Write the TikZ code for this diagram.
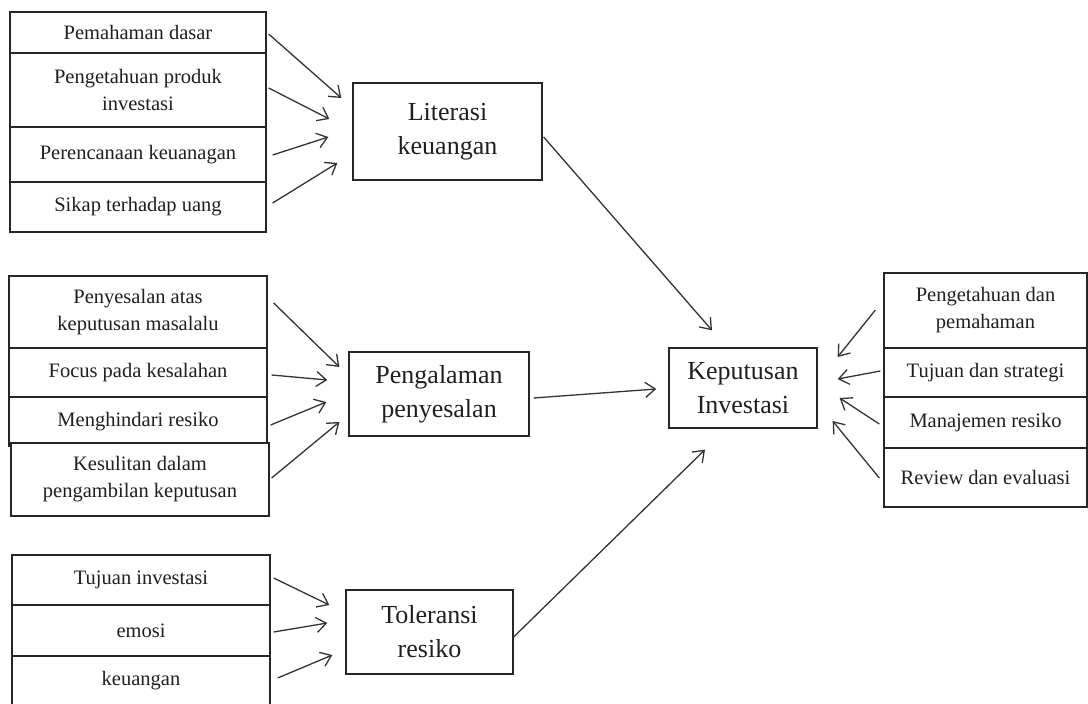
\documentclass[tikz,border=0pt]{standalone}
\usepackage{fontspec}
\setmainfont{Liberation Serif}
\usetikzlibrary{arrows.meta}
\begin{document}
\begin{tikzpicture}[x=1pt,y=-1pt,
  box/.style={draw=black!85,line width=1.3pt,rectangle,inner sep=0pt,align=center,
    text=black!88,font=\fontsize{20.5}{27}\selectfont},
  bigbox/.style={box,font=\fontsize{26}{34}\selectfont},
  arr/.style={draw=black!80,line width=1.3pt,-{Straight Barb[length=10pt,width=15pt,line width=1.3pt]}}]
\useasboundingbox (0,0) rectangle (1088,704);
\clip (0,0) rectangle (1088,704);
% top-left group
\node[box,minimum width=256,minimum height=41] (pd) at (138,32.5) {Pemahaman dasar};
\node[box,minimum width=256,minimum height=74] (pp) at (138,90) {Pengetahuan produk\\investasi};
\node[box,minimum width=256,minimum height=55] (pk) at (138,154.5) {Perencanaan keuanagan};
\node[box,minimum width=256,minimum height=50] (su) at (138,207) {Sikap terhadap uang};
\node[bigbox,minimum width=189,minimum height=97] (lit) at (447.5,131.5) {Literasi\\keuangan};
% middle group
\node[box,minimum width=258,minimum height=72] (ps) at (138,312) {Penyesalan atas\\keputusan masalalu};
\node[box,minimum width=258,minimum height=49] (fk) at (138,372.5) {Focus pada kesalahan};
\node[box,minimum width=258,minimum height=49] (mr) at (138,421.5) {Menghindari resiko};
\node[box,minimum width=258,minimum height=73,fill=white] (kd) at (140,479.5) {Kesulitan dalam\\pengambilan keputusan};
\node[bigbox,minimum width=180,minimum height=84] (peng) at (439,394) {Pengalaman\\penyesalan};
% center
\node[bigbox,minimum width=148,minimum height=80] (kep) at (743,388) {Keputusan\\Investasi};
% right group
\node[box,minimum width=203,minimum height=75] (pdp) at (985.5,310.5) {Pengetahuan dan\\pemahaman};
\node[box,minimum width=203,minimum height=49] (tds) at (985.5,372.5) {Tujuan dan strategi};
\node[box,minimum width=203,minimum height=51] (mj) at (985.5,422.5) {Manajemen resiko};
\node[box,minimum width=203,minimum height=59] (rde) at (985.5,477.5) {Review dan evaluasi};
% bottom group
\node[box,minimum width=258,minimum height=50] (ti) at (141,580) {Tujuan investasi};
\node[box,minimum width=258,minimum height=51] (em) at (141,630.5) {emosi};
\node[box,minimum width=258,minimum height=50] (ku) at (141,681) {keuangan};
\node[bigbox,minimum width=167,minimum height=84] (tol) at (429.5,632) {Toleransi\\resiko};
% arrows top
\draw[arr] ([shift={(2,1.5)}]pd.east) -- ([shift={(-11,-33.5)}]lit.west);
\draw[arr] ([shift={(2,-2)}]pp.east) -- ([shift={(-23,-12.5)}]lit.west);
\draw[arr] ([shift={(6,0.5)}]pk.east) -- ([shift={(-24,5.5)}]lit.west);
\draw[arr] ([shift={(6,-4)}]su.east) -- ([shift={(-15,31.5)}]lit.west);
% arrows middle
\draw[arr] ([shift={(6,-9)}]ps.east) -- ([shift={(-9,-27)}]peng.west);
\draw[arr] ([shift={(4,2.5)}]fk.east) -- ([shift={(-21,-14)}]peng.west);
\draw[arr] ([shift={(3,3.5)}]mr.east) -- ([shift={(-22,8)}]peng.west);
\draw[arr] ([shift={(2,-1.5)}]kd.east) -- ([shift={(-9,28)}]peng.west);
% arrows bottom
\draw[arr] ([shift={(3,-2)}]ti.east) -- ([shift={(-16,-27)}]tol.west);
\draw[arr] ([shift={(3,1.5)}]em.east) -- ([shift={(-18,-9)}]tol.west);
\draw[arr] ([shift={(7,-3)}]ku.east) -- ([shift={(-13,23)}]tol.west);
% arrows to Keputusan
\draw[arr] ([shift={(1,5.5)}]lit.east) -- ([shift={(-31,-17)}]kep.north);
\draw[arr] ([shift={(4,4)}]peng.east) -- ([shift={(-12,1)}]kep.west);
\draw[arr] ([shift={(0,5)}]tol.east) -- ([shift={(-38,21)}]kep.south);
% arrows right
\draw[arr] ([shift={(-8,-0.5)}]pdp.west) -- ([shift={(20,-31)}]kep.east);
\draw[arr] ([shift={(-3,-1.5)}]tds.west) -- ([shift={(20,-9)}]kep.east);
\draw[arr] ([shift={(-4,1.5)}]mj.west) -- ([shift={(22,10)}]kep.east);
\draw[arr] ([shift={(-4,0.5)}]rde.west) -- ([shift={(15,33)}]kep.east);
\end{tikzpicture}
\end{document}
